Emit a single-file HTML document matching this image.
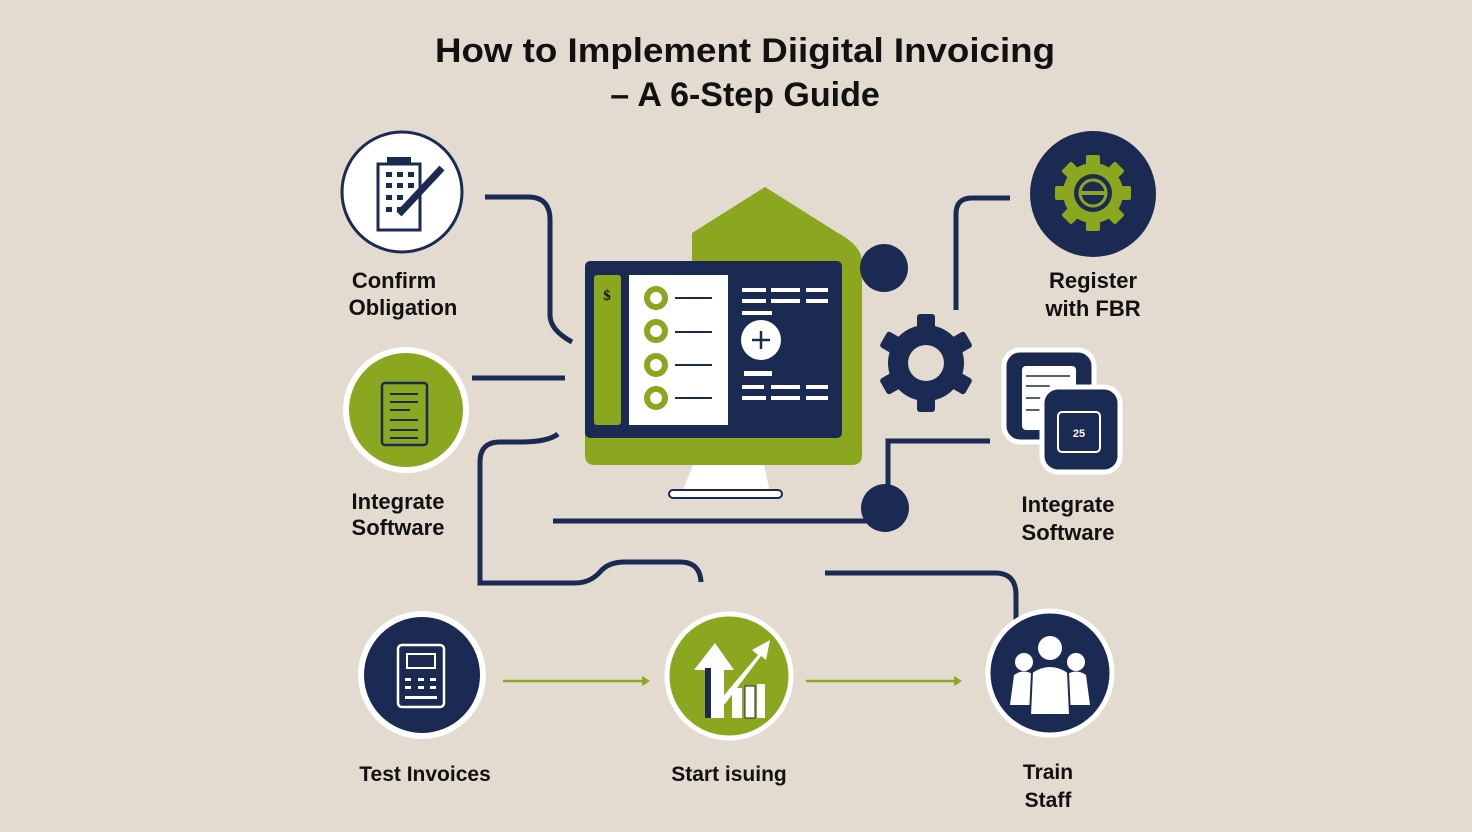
<!DOCTYPE html>
<html><head><meta charset="utf-8"><style>
html,body{margin:0;padding:0;background:#e3dbd0;}
svg{display:block;}
text{font-family:"Liberation Sans",sans-serif;font-weight:bold;fill:#111;}
</style></head><body>
<svg width="1472" height="832" viewBox="0 0 1472 832" xmlns="http://www.w3.org/2000/svg">
<rect width="1472" height="832" fill="#e3dbd0"/>
<text x="745" y="62" font-size="34" text-anchor="middle" textLength="620" lengthAdjust="spacingAndGlyphs">How to Implement Diigital Invoicing</text>
<text x="745" y="106" font-size="34" text-anchor="middle">– A 6-Step Guide</text>

<g fill="none" stroke="#1b2a52" stroke-width="5">
<path d="M485 197 H528 Q550 197 550 220 V315 Q550 330 572 342"/>
<path d="M472 378 H565"/>
<path d="M558 434 Q548 442 520 442 H500 Q480 442 480 462 V583 H575 Q590 583 600 572 Q608 562 625 562 H680 Q700 562 701 582"/>
<path d="M553 521 H870"/>
<path d="M888 505 V441 H990"/>
<path d="M1010 198 H972 Q956 198 956 214 V310"/>
<path d="M825 573 H995 Q1016 573 1016 595 V622"/>
</g>

<!-- Monitor -->
<path d="M692 233 L765 187 L838 233 Q862 246 862 262 V455 Q862 465 852 465 H595 Q585 465 585 455 V270 H692 Z" fill="#8ba61f"/>
<rect x="585" y="261" width="257" height="177" rx="5" fill="#1b2a52"/>
<rect x="594" y="275" width="27" height="150" rx="3" fill="#8ba61f"/>
<text x="607" y="300" font-size="15" text-anchor="middle" style="font-family:'Liberation Serif',serif">$</text>
<rect x="629" y="275" width="99" height="150" fill="#fff"/>
<g fill="#fff" stroke="#8ba61f" stroke-width="6">
<circle cx="656" cy="298" r="9"/><circle cx="656" cy="331" r="9"/><circle cx="656" cy="365" r="9"/><circle cx="656" cy="398" r="9"/>
</g>
<g stroke="#1b2a52" stroke-width="2"><path d="M675 298H712M675 332H712M675 365H712M675 398H712"/></g>
<g fill="#fff">
<rect x="742" y="288" width="24" height="4"/><rect x="771" y="288" width="29" height="4"/><rect x="806" y="288" width="22" height="4"/>
<rect x="742" y="299" width="24" height="4"/><rect x="771" y="299" width="29" height="4"/><rect x="806" y="299" width="22" height="4"/>
<rect x="742" y="311" width="30" height="4"/>
<rect x="744" y="371" width="28" height="5"/>
<rect x="742" y="385" width="22" height="4"/><rect x="771" y="385" width="29" height="4"/><rect x="806" y="385" width="22" height="4"/>
<rect x="742" y="396" width="24" height="4"/><rect x="771" y="396" width="29" height="4"/><rect x="806" y="396" width="22" height="4"/>
<circle cx="761" cy="340" r="20"/>
</g>
<path d="M752 340H770M761 331V349" stroke="#1b2a52" stroke-width="2.5"/>
<path d="M693 465 H764 L770 492 H682 Z" fill="#fff"/>
<rect x="669" y="490" width="113" height="8" rx="4" fill="#fff" stroke="#1b2a52" stroke-width="2"/>

<circle cx="884" cy="268" r="24" fill="#1b2a52"/>
<!-- gear -->
<g transform="translate(926,363)" fill="#1b2a52">
<circle r="38"/>
<g id="t"><rect x="-9" y="-49" width="18" height="16" rx="3"/></g>
<use href="#t" transform="rotate(60)"/><use href="#t" transform="rotate(120)"/><use href="#t" transform="rotate(180)"/><use href="#t" transform="rotate(240)"/><use href="#t" transform="rotate(300)"/>
<circle r="18" fill="#e3dbd0"/>
</g>
<circle cx="885" cy="508" r="24" fill="#1b2a52"/>

<!-- Confirm -->
<circle cx="402" cy="192" r="60" fill="#fff" stroke="#1b2a52" stroke-width="3"/>
<rect x="378" y="164" width="42" height="66" fill="#fff" stroke="#1b2a52" stroke-width="3"/>
<rect x="387" y="157" width="24" height="8" fill="#1b2a52"/>
<g fill="#1b2a52">
<rect x="386" y="172" width="6" height="5"/><rect x="397" y="172" width="6" height="5"/><rect x="408" y="172" width="6" height="5"/>
<rect x="386" y="183" width="6" height="5"/><rect x="397" y="183" width="6" height="5"/><rect x="408" y="183" width="6" height="5"/>
<rect x="386" y="195" width="6" height="5"/><rect x="397" y="195" width="6" height="5"/>
<rect x="386" y="207" width="6" height="5"/><rect x="397" y="207" width="6" height="5"/>
</g>
<path d="M399 214 L442 168" stroke="#1b2a52" stroke-width="7"/>
<text x="394" y="288" font-size="22" text-anchor="middle">Confirm</text>
<text x="403" y="315" font-size="22" text-anchor="middle">Obligation</text>

<!-- Integrate left -->
<circle cx="406" cy="410" r="60" fill="#8ba61f" stroke="#fff" stroke-width="6"/>
<rect x="382" y="383" width="45" height="62" rx="3" fill="none" stroke="#1b2a52" stroke-width="2.5"/>
<path d="M390 394H418M390 402H418M390 410H410M390 420H418M390 430H418M390 438H418" stroke="#1b2a52" stroke-width="2"/>
<text x="398" y="509" font-size="22" text-anchor="middle">Integrate</text>
<text x="398" y="535" font-size="22" text-anchor="middle">Software</text>

<!-- Register -->
<circle cx="1093" cy="194" r="63" fill="#1b2a52"/>
<g transform="translate(1093,193)" fill="#8ba61f">
<circle r="30"/>
<g id="t2"><rect x="-7" y="-38" width="14" height="12" rx="2"/></g>
<use href="#t2" transform="rotate(45)"/><use href="#t2" transform="rotate(90)"/><use href="#t2" transform="rotate(135)"/><use href="#t2" transform="rotate(180)"/><use href="#t2" transform="rotate(225)"/><use href="#t2" transform="rotate(270)"/><use href="#t2" transform="rotate(315)"/>
<circle r="19" fill="#1b2a52"/>
<circle r="13" fill="none" stroke="#8ba61f" stroke-width="3"/>
<rect x="-12" y="-2" width="24" height="4"/>
</g>
<text x="1093" y="288" font-size="22" text-anchor="middle">Register</text>
<text x="1093" y="316" font-size="22" text-anchor="middle">with FBR</text>

<!-- Integrate right icon -->
<rect x="1004" y="350" width="90" height="92" rx="16" fill="#1b2a52" stroke="#fff" stroke-width="5"/>
<rect x="1022" y="366" width="54" height="64" rx="4" fill="#fff"/>
<path d="M1026 376H1070M1026 386H1050M1026 398H1045M1026 410H1040" stroke="#1b2a52" stroke-width="1.5"/>
<rect x="1042" y="387" width="78" height="85" rx="16" fill="#1b2a52" stroke="#fff" stroke-width="5"/>
<rect x="1058" y="412" width="42" height="40" rx="4" fill="none" stroke="#fff" stroke-width="2"/>
<text x="1079" y="437" font-size="11" text-anchor="middle" style="fill:#fff">25</text>
<text x="1068" y="512" font-size="22" text-anchor="middle">Integrate</text>
<text x="1068" y="540" font-size="22" text-anchor="middle">Software</text>

<!-- bottom row -->
<circle cx="422" cy="675" r="61" fill="#1b2a52" stroke="#fff" stroke-width="6"/>
<rect x="398" y="645" width="46" height="62" rx="4" fill="none" stroke="#fff" stroke-width="2.5"/>
<rect x="407" y="654" width="28" height="14" fill="none" stroke="#fff" stroke-width="2"/>
<g fill="#fff"><rect x="405" y="678" width="6" height="3"/><rect x="418" y="678" width="6" height="3"/><rect x="430" y="678" width="6" height="3"/>
<rect x="405" y="686" width="6" height="3"/><rect x="418" y="686" width="6" height="3"/><rect x="430" y="686" width="6" height="3"/>
<rect x="405" y="696" width="32" height="3"/></g>
<text x="425" y="781" font-size="21" text-anchor="middle">Test Invoices</text>

<path d="M503 681H644" stroke="#8ba61f" stroke-width="2.5"/><path d="M642 676L650 681L642 686Z" fill="#8ba61f"/>
<path d="M806 681H956" stroke="#8ba61f" stroke-width="2.5"/><path d="M954 676L962 681L954 686Z" fill="#8ba61f"/>

<circle cx="729" cy="676" r="62" fill="#8ba61f" stroke="#fff" stroke-width="5"/>
<path d="M705 718 V670 H694 L715 643 L734 670 H724 V718 Z" fill="#fff"/>
<rect x="705" y="668" width="6" height="50" fill="#1b2a52"/>
<path d="M720 700 L758 655 L752 650 L770 640 L766 660 L761 656 L725 704 Z" fill="#fff"/>
<rect x="732" y="688" width="10" height="30" fill="#fff"/><rect x="745" y="686" width="10" height="32" fill="#fff" stroke="#1b2a52" stroke-width="1"/><rect x="757" y="684" width="8" height="34" fill="#fff"/>
<text x="729" y="781" font-size="21" text-anchor="middle">Start isuing</text>

<circle cx="1050" cy="673" r="62" fill="#1b2a52" stroke="#fff" stroke-width="5"/>
<g fill="#fff">
<circle cx="1024" cy="662" r="9"/><circle cx="1076" cy="662" r="9"/>
<path d="M1010 705 L1014 675 Q1024 668 1034 675 L1036 705 Z"/>
<path d="M1064 705 L1066 675 Q1076 668 1086 675 L1090 705 Z"/>
<circle cx="1050" cy="648" r="12"/>
<path d="M1030 715 L1032 672 Q1050 660 1068 672 L1070 715 Z" stroke="#1b2a52" stroke-width="2"/>
</g>
<text x="1048" y="779" font-size="21" text-anchor="middle">Train</text>
<text x="1048" y="807" font-size="21" text-anchor="middle">Staff</text>
</svg>
</body></html>
